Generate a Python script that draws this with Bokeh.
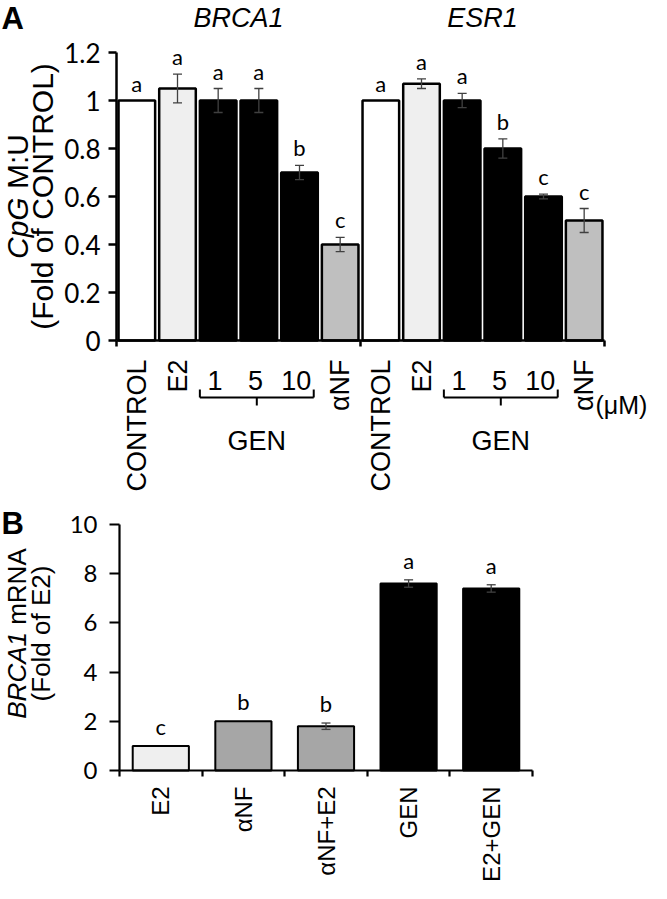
import math
from bokeh.plotting import figure
from bokeh.models import (Range1d, FixedTicker, Label, Whisker, TeeHead, ColumnDataSource,
                          CustomJSTickFormatter)
from bokeh.layouts import column
from bokeh.embed import file_html
from bokeh.resources import INLINE

# ---------------- data ----------------
a_genes = ["BRCA1", "ESR1"]
a_categories = ["CONTROL", "E2", "1", "5", "10", "αNF"]
a_brca1 = [1.00, 1.05, 1.00, 1.00, 0.70, 0.40]
a_brca1_err = [0.0, 0.06, 0.05, 0.05, 0.03, 0.03]
a_brca1_letters = ["a", "a", "a", "a", "b", "c"]
a_esr1 = [1.00, 1.07, 1.00, 0.80, 0.60, 0.50]
a_esr1_err = [0.0, 0.02, 0.03, 0.04, 0.01, 0.05]
a_esr1_letters = ["a", "a", "a", "b", "c", "c"]
a_yticks = [0, 0.2, 0.4, 0.6, 0.8, 1.0, 1.2]
a_ytick_labels = ["0", "0.2", "0.4", "0.6", "0.8", "1", "1.2"]
a_colors = ["#ffffff", "#efefef", "#000000", "#000000", "#000000", "#bfbfbf"]

b_categories = ["E2", "αNF", "αNF+E2", "GEN", "E2+GEN"]
b_values = [1.0, 2.0, 1.8, 7.6, 7.4]
b_err = [0.0, 0.0, 0.13, 0.15, 0.15]
b_letters = ["c", "b", "b", "a", "a"]
b_yticks = [0, 2, 4, 6, 8, 10]
b_ytick_labels = ["0", "2", "4", "6", "8", "10"]
b_colors = ["#efefef", "#a6a6a6", "#a6a6a6", "#000000", "#000000"]

W = 651
LABEL_FONT = "Liberation Sans"
NUM_FONT = "Lato"
NBSP = "\u00a0"


def lab(p, x, y, text, size, angle=0.0, align="center", baseline="middle", style="normal", font=LABEL_FONT):
    p.add_layout(Label(x=x, y=y, text=text, angle=angle, text_align=align, text_baseline=baseline,
                       text_font=font, text_font_size=f"{size}px", text_font_style=style,
                       text_color="black"))


def make_fig(height, xr, yr):
    p = figure(width=W, height=height, x_range=Range1d(*xr), y_range=Range1d(*yr),
               output_backend="svg", toolbar_location=None, title=None,
               min_border_left=0, min_border_right=0, min_border_top=0, min_border_bottom=0)
    p.xgrid.visible = False
    p.ygrid.visible = False
    p.outline_line_color = None
    p.background_fill_color = "white"
    p.border_fill_color = "white"
    return p


def style_axes(p, yticks, ylabels, ybounds, xticks, xbounds, font_size, standoff, tick_out, lw):
    for ax in (p.xaxis[0], p.yaxis[0]):
        ax.fixed_location = 0
        ax.axis_line_width = lw
        ax.axis_line_color = "black"
        ax.major_tick_line_width = lw
        ax.major_tick_line_color = "black"
        ax.major_tick_in = 0
        ax.minor_tick_line_color = None
    p.yaxis.bounds = ybounds
    p.yaxis.ticker = FixedTicker(ticks=yticks)
    p.yaxis.formatter = CustomJSTickFormatter(args=dict(lbls=ylabels), code="return lbls[index];")
    p.yaxis.major_tick_out = tick_out
    p.yaxis.major_label_text_font = NUM_FONT
    p.yaxis.major_label_text_font_size = f"{font_size}px"
    p.yaxis.major_label_text_color = "black"
    p.yaxis.major_label_standoff = standoff
    p.xaxis.bounds = xbounds
    p.xaxis.ticker = FixedTicker(ticks=xticks)
    p.xaxis.major_tick_out = 6
    p.xaxis.formatter = CustomJSTickFormatter(code="return '';")


def whiskers(p, xs, vals, errs):
    wx = [x for x, e in zip(xs, errs) if e > 0]
    wup = [v + e for v, e in zip(vals, errs) if e > 0]
    wlo = [v - e for v, e in zip(vals, errs) if e > 0]
    src = ColumnDataSource(dict(x=wx, upper=wup, lower=wlo))
    p.add_layout(Whisker(source=src, base="x", upper="upper", lower="lower", level="annotation",
                         line_color="#404040", line_width=1.3,
                         upper_head=TeeHead(size=9, line_color="#404040", line_width=1.3),
                         lower_head=TeeHead(size=9, line_color="#404040", line_width=1.3)))


def letters_at(p, xs, vals, errs, letters, off):
    for x, v, e, t in zip(xs, vals, errs, letters):
        p.add_layout(Label(x=x, y=v + e, text=t, text_align="center", text_baseline="bottom",
                           y_offset=off, text_font=NUM_FONT, text_font_size="22px",
                           text_color="black"))


# ---------------- panel A ----------------
# reference-pixel -> data mapping for panel A (axis origin at ref (124, 348))
SLOT_A = 488 / 12.0
PY_A = 288 / 1.2


def axA(rx):
    return (rx - 124) / SLOT_A


def ayA(ry):
    return (348 - ry) / PY_A


A_H = 497
pA = make_fig(A_H, (axA(8), axA(8 + W)), (ayA(8 + A_H), ayA(8)))
style_axes(pA, a_yticks, a_ytick_labels, (0, 1.2), [0, 6, 12], (0, 12), 26, 8, 8, 2.5)

vals = a_brca1 + a_esr1
errs = a_brca1_err + a_esr1_err
letters = a_brca1_letters + a_esr1_letters
xs = [i + 0.5 for i in range(12)]
cols = a_colors + a_colors
pA.vbar(x=xs, top=vals, width=0.9, fill_color=cols, line_color="black", line_width=2.5)
whiskers(pA, xs, vals, errs)
letters_at(pA, xs, vals, errs, letters, 4)

FX = 27
lab(pA, axA(9), ayA(26), "A", 31, align="left", baseline="alphabetic", style="bold")
for gi, gene in enumerate(a_genes):
    g = gi * 6
    lab(pA, g + 3, ayA(25), gene, 27, baseline="alphabetic", style="italic")
    for ci, cat in enumerate(a_categories):
        cx = g + ci + 0.5
        if cat in ("1", "5", "10"):
            lab(pA, cx - 0.08, ayA(388), cat, FX, baseline="alphabetic")
        else:
            lab(pA, cx, ayA(367), cat, FX, angle=math.pi / 2, align="right", baseline="middle")
    # brace under GEN doses
    bl, br, bc = g + 2.05, g + 4.85, g + 3.45
    pA.segment(x0=[bl, bl, br, bc], y0=[ayA(405)] * 4,
               x1=[br, bl, br, bc], y1=[ayA(405), ayA(397), ayA(397), ayA(413)],
               line_color="black", line_width=2)
    lab(pA, bc, ayA(448), "GEN", FX, baseline="alphabetic")
lab(pA, axA(603), ayA(412), "(μM)", 25, align="left", baseline="middle")

# y-axis title, panel A
fa = 30
half = (2.056 + 2.111) * fa / 2 / PY_A
cy = ayA(204)
lab(pA, axA(25), cy - half, "CpG", fa, angle=math.pi / 2, align="left", style="italic")
lab(pA, axA(25), cy + half, NBSP + "M:U", fa, angle=math.pi / 2, align="right")
lab(pA, axA(50), cy, "(Fold of CONTROL)", fa, angle=math.pi / 2)

# ---------------- panel B ----------------
SLOT_B = 413 / 5.0
PY_B = 246 / 10.0


def axB(rx):
    return (rx - 127) / SLOT_B


def ayB(ry):
    return (778 - ry) / PY_B


B_H = 386
B_TOP = 8 + A_H
pB = make_fig(B_H, (axB(8), axB(8 + W)), (ayB(B_TOP + B_H), ayB(B_TOP)))
style_axes(pB, b_yticks, b_ytick_labels, (0, 10), [0, 1, 2, 3, 4, 5], (0, 5), 24, 12, 10, 2.2)

bxs = [i + 0.5 for i in range(5)]
pB.vbar(x=bxs, top=b_values, width=0.68, fill_color=b_colors, line_color="black", line_width=2)
whiskers(pB, bxs, b_values, b_err)
letters_at(pB, bxs, b_values, b_err, b_letters, 6)

lab(pB, axB(9), ayB(531), "B", 31, align="left", baseline="alphabetic", style="bold")
for ci, cat in enumerate(b_categories):
    lab(pB, ci + 0.5, ayB(794), cat, 24, angle=math.pi / 2, align="right", baseline="middle")

fb = 26
halfb = (3.334 + 3.222) * fb / 2 / PY_B
cyb = ayB(641)
lab(pB, axB(24), cyb - halfb, "BRCA1", fb, angle=math.pi / 2, align="left", style="italic")
lab(pB, axB(24), cyb + halfb, NBSP + "mRNA", fb, angle=math.pi / 2, align="right")
lab(pB, axB(48), cyb, "(Fold of E2)", fb, angle=math.pi / 2)

layout = column(pA, pB, spacing=0)
open("out.html", "w").write(file_html(layout, INLINE))
